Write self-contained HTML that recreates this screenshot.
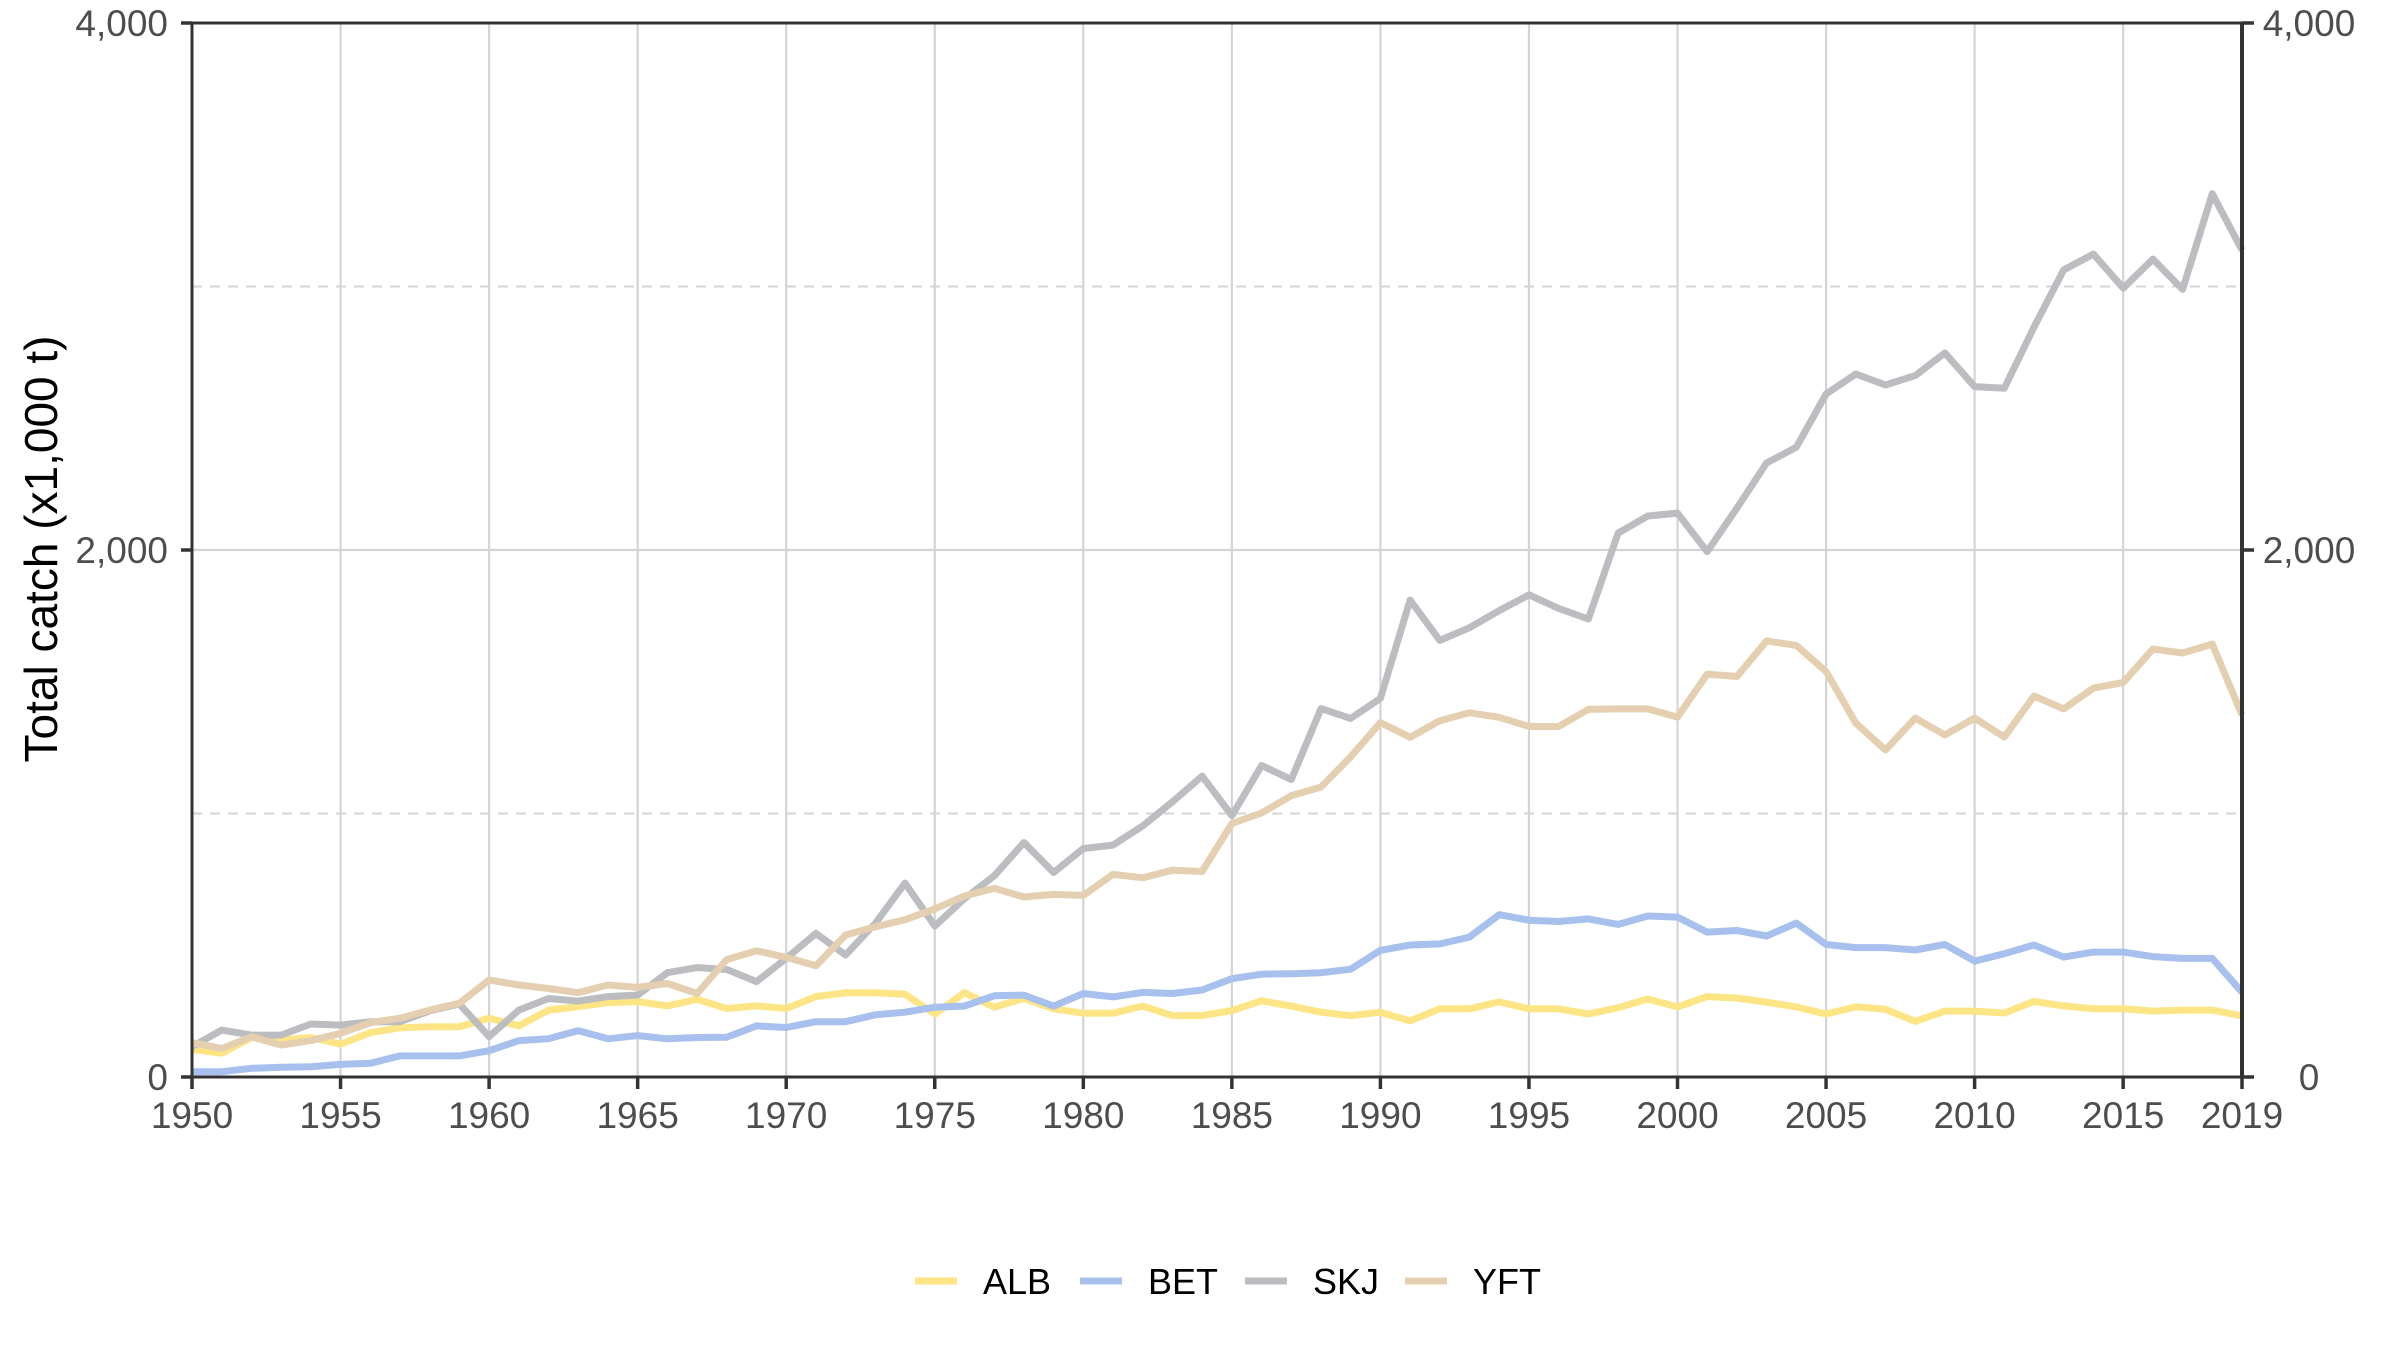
<!DOCTYPE html>
<html><head><meta charset="utf-8"><style>
html,body{margin:0;padding:0;background:#fff;}
svg{display:block;font-family:"Liberation Sans",Arial,sans-serif;}
</style></head><body>
<svg id="chart" width="2400" height="1350" viewBox="0 0 2400 1350" xmlns="http://www.w3.org/2000/svg">
<rect x="0" y="0" width="2400" height="1350" fill="#fff"/>
<g id="grid"></g>
<g id="series"></g>
<g id="axes"></g>
<text x="0" y="0" transform="translate(57,549) rotate(-90)" text-anchor="middle" font-size="46" fill="#000">Total catch (x1,000 t)</text>
<g id="legend"></g>
</svg>
<script>
const years = [];
for (let y = 1950; y <= 2019; y++) years.push(y);
const seriesNames = ["ALB","BET","SKJ","YFT"];
const seriesColors = ["#fde585","#a7c0ed","#bbbdc1","#e4cfb1"];
const albValues = [105,90,150,140,150,125,168,187,191,191,223,194,254,267,282,286,270,295,260,270,260,305,320,320,314,239,320,265,298,259,242,242,269,233,233,252,289,269,246,233,246,213,259,259,285,259,259,239,263,296,266,305,300,284,266,239,266,257,211,250,250,243,287,270,259,259,250,254,254,232];
const betValues = [20,20,33,37,39,48,52,80,80,80,100,138,145,176,145,157,145,150,151,194,188,210,210,236,246,265,269,308,311,269,317,304,321,317,330,373,390,392,396,409,481,501,505,531,616,595,590,600,579,611,607,550,556,535,584,503,491,491,482,503,440,468,501,455,474,474,457,450,450,322];
const skjValues = [115,178,159,159,201,197,210,210,251,277,153,254,298,288,305,311,396,415,408,362,450,545,463,583,736,573,677,763,890,776,867,880,953,1044,1142,992,1182,1129,1398,1361,1437,1810,1657,1705,1770,1830,1778,1738,2064,2129,2140,1994,2159,2330,2390,2592,2668,2626,2662,2748,2620,2614,2846,3063,3123,2994,3104,2989,3352,3138];
const yftValues = [130,108,153,121,138,166,206,223,254,280,368,349,336,320,349,340,355,317,446,479,454,422,539,570,597,638,687,716,683,693,689,769,756,785,780,962,1002,1068,1100,1215,1345,1289,1352,1382,1365,1330,1330,1395,1397,1397,1366,1529,1520,1655,1638,1539,1343,1241,1362,1298,1362,1290,1446,1397,1476,1497,1624,1609,1643,1374];
const xTicks = [1950,1955,1960,1965,1970,1975,1980,1985,1990,1995,2000,2005,2010,2015,2019];
const yTicks = [0,2000,4000];
const yTickLabels = ["0","2,000","4,000"];
const yMinor = [1000,3000];

const X0=192, X1=2242, Y0=1077, Y1=23;
function xs(v){return X0+(v-1950)/(2019-1950)*(X1-X0);}
function ys(v){return Y0-(v/4000)*(Y0-Y1);}
const NS="http://www.w3.org/2000/svg";
function mk(tag, attrs, parent){const e=document.createElementNS(NS,tag);for(const k in attrs)e.setAttribute(k,attrs[k]);parent.appendChild(e);return e;}
const grid=document.getElementById('grid'), ser=document.getElementById('series'), axes=document.getElementById('axes'), leg=document.getElementById('legend');

xTicks.forEach(t=>{ if(t===1950||t===2019) return;
  const l=mk('line',{x1:xs(t),x2:xs(t),y1:Y1,y2:Y0,stroke:'#d4d4d4','stroke-width':2.2},grid);
  
  
});
yTicks.forEach(t=>{
  const l=mk('line',{x1:X0,x2:X1,y1:ys(t),y2:ys(t),stroke:'#d4d4d4','stroke-width':2.2},grid);
  
  
});
yMinor.forEach(t=>{
  const l=mk('line',{x1:X0,x2:X1,y1:ys(t),y2:ys(t),stroke:'#d4d4d4','stroke-width':2,'stroke-dasharray':'10 8'},grid);
  
  
});

const allValues=[albValues,betValues,skjValues,yftValues];
allValues.forEach((vals,i)=>{
  const d=vals.map((v,j)=>(j?'L':'M')+xs(years[j]).toFixed(1)+' '+ys(v).toFixed(1)).join(' ');
  const p=mk('path',{d:d,fill:'none',stroke:seriesColors[i],'stroke-width':7,'stroke-linejoin':'round'},ser);
  
  
});

const fr=mk('rect',{x:X0,y:Y1,width:X1-X0,height:Y0-Y1,fill:'none',stroke:'#333','stroke-width':3},axes);


const ra=mk('line',{x1:X1,x2:X1,y1:Y1,y2:Y0+1.5,stroke:'#333','stroke-width':4},axes);



xTicks.forEach(t=>{
  const tk=mk('line',{x1:xs(t),x2:xs(t),y1:Y0,y2:Y0+12,stroke:'#333','stroke-width':3.5},axes);
  
  
  const tx=mk('text',{x:xs(t),y:1128,'text-anchor':'middle','font-size':37,fill:'#4d4d4d'},axes);
  tx.textContent=String(t);
  
  
});
yTicks.forEach((t,i)=>{
  const tl=mk('line',{x1:X0-11,x2:X0,y1:ys(t),y2:ys(t),stroke:'#333','stroke-width':3.5},axes);
  
  
  const tr=mk('line',{x1:X1,x2:X1+12,y1:ys(t),y2:ys(t),stroke:'#333','stroke-width':3.5},axes);
  
  
  const a=mk('text',{x:168,y:ys(t)+13,'text-anchor':'end','font-size':37,fill:'#4d4d4d'},axes);
  a.textContent=yTickLabels[i];
  
  
  const b=mk('text',{x:2309,y:ys(t)+13,'text-anchor':'middle','font-size':37,fill:'#4d4d4d'},axes);
  b.textContent=yTickLabels[i];
  
  
});

const legX=[915,1080,1245,1405];
seriesNames.forEach((n,i)=>{
  const g=mk('g',{},leg);
  
  
  mk('line',{x1:legX[i],x2:legX[i]+42,y1:1281,y2:1281,stroke:seriesColors[i],'stroke-width':7},g);
  const t=mk('text',{x:legX[i]+68,y:1294,'font-size':36,fill:'#000'},g);
  t.textContent=n;
});
</script>
</body></html>
